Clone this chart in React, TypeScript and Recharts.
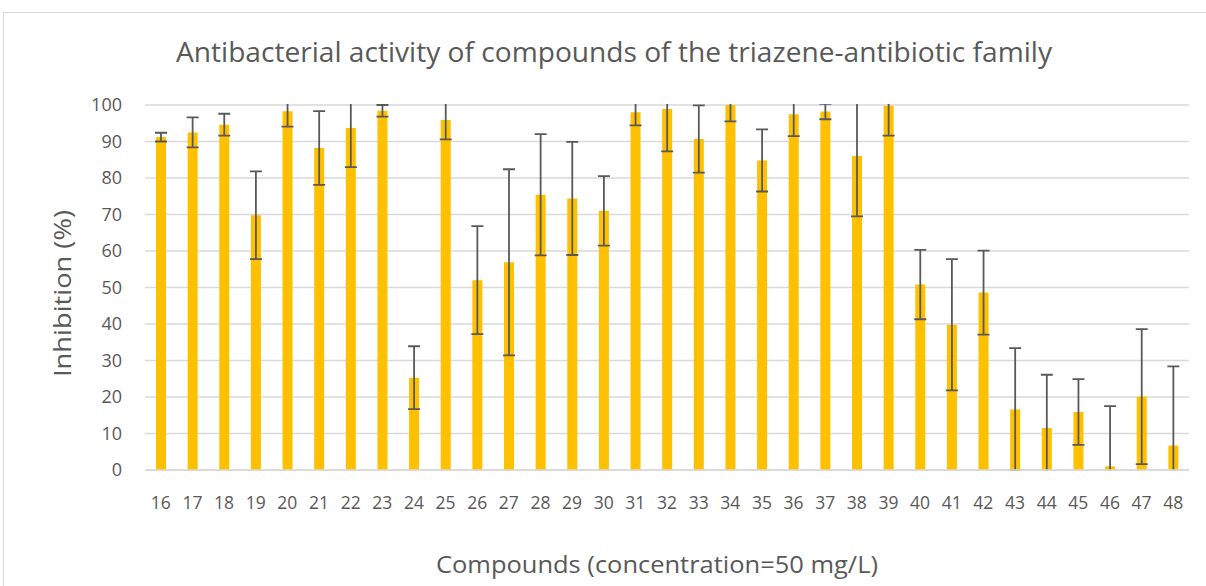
import React from 'react';
import { BarChart, Bar, XAxis, YAxis, CartesianGrid, ErrorBar } from 'recharts';

const categories = [
  '16', '17', '18', '19', '20', '21', '22', '23', '24', '25', '26',
  '27', '28', '29', '30', '31', '32', '33', '34', '35', '36', '37',
  '38', '39', '40', '41', '42', '43', '44', '45', '46', '47', '48',
];

const inhibition = [
  91.2, 92.5, 94.6, 69.8, 98.3, 88.2, 93.7, 98.4, 25.3, 95.9, 52.0,
  56.9, 75.4, 74.4, 71.0, 98.0, 98.9, 90.7, 100, 84.8, 97.5, 98.2,
  86.0, 99.8, 50.8, 39.8, 48.6, 16.6, 11.5, 15.9, 1.0, 20.1, 6.7,
];

const errors = [
  1.2, 4.1, 3.0, 12.0, 4.2, 10.1, 10.7, 1.6, 8.6, 5.3, 14.8,
  25.5, 16.6, 15.5, 9.5, 3.6, 11.6, 9.2, 4.5, 8.5, 6.0, 2.1,
  16.5, 8.2, 9.5, 18.0, 11.5, 16.8, 14.6, 9.0, 16.5, 18.5, 21.7,
];

const yTicks = [0, 10, 20, 30, 40, 50, 60, 70, 80, 90, 100];

const title = 'Antibacterial activity of compounds of the triazene-antibiotic family';
const xLabel = 'Compounds (concentration=50 mg/L)';
const yLabel = 'Inhibition (%)';

const data = categories.map((c, i) => ({ compound: c, value: inhibition[i], err: errors[i] }));

const FONT = "'Open Sans', 'Noto Sans', sans-serif";
const TEXT = '#595959';

export default function App() {
  return (
    <div style={{ position: 'absolute', left: 0, top: 0, width: 1206, height: 586, overflow: 'hidden', background: '#fff' }}>
      <style>{`.recharts-errorBars { clip-path: url(#plotAreaClip); }`}</style>
      <div
        style={{
          position: 'absolute', left: 3, top: 12, width: 1230, height: 620,
          border: '1.3px solid #d9d9d9', boxSizing: 'border-box',
        }}
      />
      <div style={{ position: 'absolute', left: 0, top: 0 }}>
        <BarChart
          width={1206}
          height={586}
          data={data}
          margin={{ top: 105, right: 17, bottom: 86, left: 0 }}
          barSize={10}
        >
          <CartesianGrid vertical={false} stroke="#d9d9d9" strokeWidth={1.3} />
          <XAxis
            dataKey="compound"
            interval={0}
            tickLine={false}
            tickSize={0}
            tickMargin={27}
            height={30}
            axisLine={{ stroke: '#d9d9d9', strokeWidth: 1.3 }}
            tick={{ fill: TEXT, fontSize: 17.5, fontFamily: FONT }}
          />
          <YAxis
            domain={[0, 100]}
            ticks={yTicks}
            allowDataOverflow
            width={145}
            axisLine={false}
            tickLine={false}
            tickSize={0}
            tickMargin={23}
            tick={{ fill: TEXT, fontSize: 18, fontFamily: FONT }}
          />
          <Bar dataKey="value" fill="#FFC000" isAnimationActive={false}>
            <ErrorBar dataKey="err" width={6} stroke="#595959" strokeWidth={1.8} direction="y" isAnimationActive={false} />
          </Bar>
        </BarChart>
      </div>
      <svg style={{ position: 'absolute', left: 0, top: 0, pointerEvents: 'none' }} width={1206} height={586}>
        <defs>
          <clipPath id="plotAreaClip" clipPathUnits="userSpaceOnUse">
            <rect x={140} y={104} width={1060} height={366.5} />
          </clipPath>
        </defs>
        <text x={176} y={61.7} fontSize={27} fontFamily={FONT} fill={TEXT} textLength={876} lengthAdjust="spacingAndGlyphs">
          {title}
        </text>
        <text x={436} y={573.3} fontSize={23} fontFamily={FONT} fill={TEXT} textLength={442} lengthAdjust="spacingAndGlyphs">
          {xLabel}
        </text>
        <text transform="translate(71,377) rotate(-90)" x={0} y={0} fontSize={23} fontFamily={FONT} fill={TEXT} textLength={167} lengthAdjust="spacingAndGlyphs">
          {yLabel}
        </text>
      </svg>
    </div>
  );
}
